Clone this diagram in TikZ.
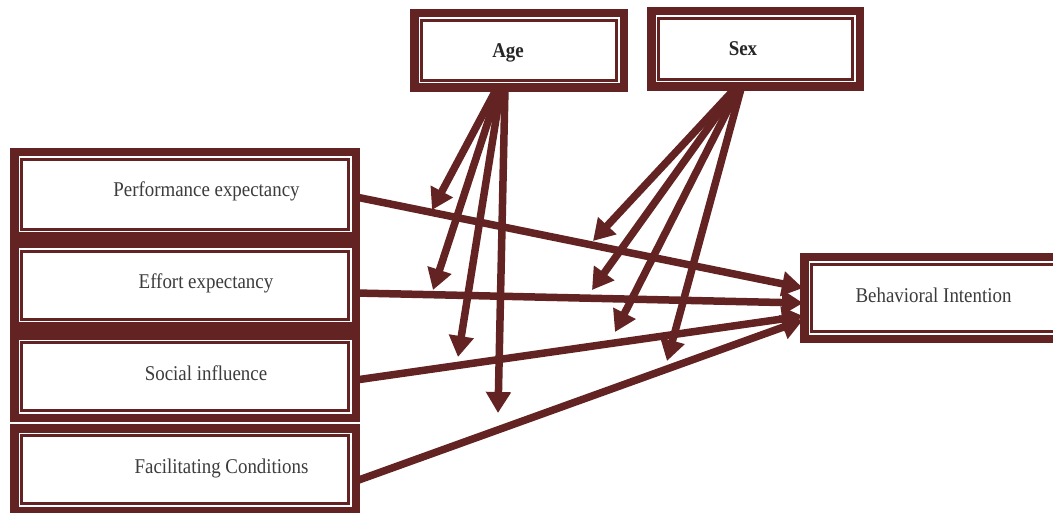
\documentclass[tikz,border=0pt]{standalone}
\usepackage{fontspec}
\setmainfont{Liberation Serif}[FakeStretch=0.9]
\usetikzlibrary{arrows.meta,fit,calc}
\definecolor{mar}{RGB}{99,35,35}
\definecolor{lbl}{RGB}{60,60,60}
\pgfdeclarelayer{arr}
\pgfdeclarelayer{frm}
\pgfsetlayers{arr,frm,main}
\tikzset{
  area/.style={inner sep=0pt, outer sep=0pt, draw=none},
  lab/.style={font=\fontsize{21}{24}\selectfont, text=lbl, anchor=base, inner sep=0pt},
  hd/.style={font=\fontsize{21}{24}\selectfont\bfseries, text=black!85, anchor=base, inner sep=0pt},
  conn/.style={draw=mar, line width=7.5pt, -{Triangle[width=24pt,length=21pt]}},
}
\newcommand\frameit[1]{%
  \begin{pgfonlayer}{frm}
    \fill[mar] (#1.north west) rectangle (#1.south east);
    \fill[white] ($(#1.north west)+(8.5,8.5)$) rectangle ($(#1.south east)+(-8.5,-8.5)$);
    \draw[mar,line width=3pt] ($(#1.north west)+(11.5,11.5)$) rectangle ($(#1.south east)+(-11.5,-11.5)$);
  \end{pgfonlayer}}
\begin{document}
\begin{tikzpicture}[x=1pt,y=-1pt]
\useasboundingbox (0,0) rectangle (1053,513);
% box areas
\node[area, fit={(410,9)(628,92)}] (age) {};
\node[area, fit={(647,7)(864,91)}] (sex) {};
\node[area, fit={(10,148)(360,241)}] (perf) {};
\node[area, fit={(10,240)(360,331)}] (eff) {};
\node[area, fit={(10,331)(360,422)}] (soc) {};
\node[area, fit={(10,424)(360,515)}] (fac) {};
\node[area, fit={(800,253)(1066,343)}] (bi) {};
\frameit{age}\frameit{sex}\frameit{perf}\frameit{eff}\frameit{soc}\frameit{fac}\frameit{bi}
% labels
\node[hd] (agel) at (508,58) {Age};
\node[hd] (sexl) at (743,56) {Sex};
\node[lab] (perfl) at (206.5,197) {Performance expectancy};
\node[lab] (effl) at (206,289) {Effort expectancy};
\node[lab] (socl) at (206,380) {Social influence};
\node[lab] (facl) at (221.5,473) {Facilitating Conditions};
\node[lab] (bil) at (933.5,303) {Behavioral Intention};
% arrow end points
\coordinate (ta1) at (432,210);
\coordinate (ta2) at (433,290);
\coordinate (ta3) at (458,357);
\coordinate (ta4) at (498,413);
\coordinate (ts1) at (593,241);
\coordinate (ts2) at (592,290);
\coordinate (ts3) at (615,332);
\coordinate (ts4) at (667,361);
\begin{pgfonlayer}{arr}
\draw[conn] ([xshift=-22pt,yshift=4pt]age.south) -- (ta1);
\draw[conn] ([xshift=-20pt,yshift=4pt]age.south) -- (ta2);
\draw[conn] ([xshift=-18pt,yshift=4pt]age.south) -- (ta3);
\draw[conn] ([xshift=-14pt,yshift=4pt]age.south) -- (ta4);
\draw[conn] ([xshift=-19pt,yshift=4pt]sex.south) -- (ts1);
\draw[conn] ([xshift=-18pt,yshift=4pt]sex.south) -- (ts2);
\draw[conn] ([xshift=-16pt,yshift=4pt]sex.south) -- (ts3);
\draw[conn] ([xshift=-14pt,yshift=4pt]sex.south) -- (ts4);
\draw[conn] ([xshift=-4pt,yshift=-2.5pt]perf.east) -- ([xshift=3pt,yshift=10pt]bi.west);
\draw[conn] ([xshift=-4pt,yshift=-7.5pt]eff.east) -- ([xshift=3pt,yshift=-5pt]bi.west);
\draw[conn] ([xshift=-4pt,yshift=-3.5pt]soc.east) -- ([xshift=3pt,yshift=-18pt]bi.west);
\draw[conn] ([xshift=-4pt,yshift=-11.5pt]fac.east) -- ([xshift=3pt,yshift=-22pt]bi.west);
\end{pgfonlayer}
\end{tikzpicture}
\end{document}
